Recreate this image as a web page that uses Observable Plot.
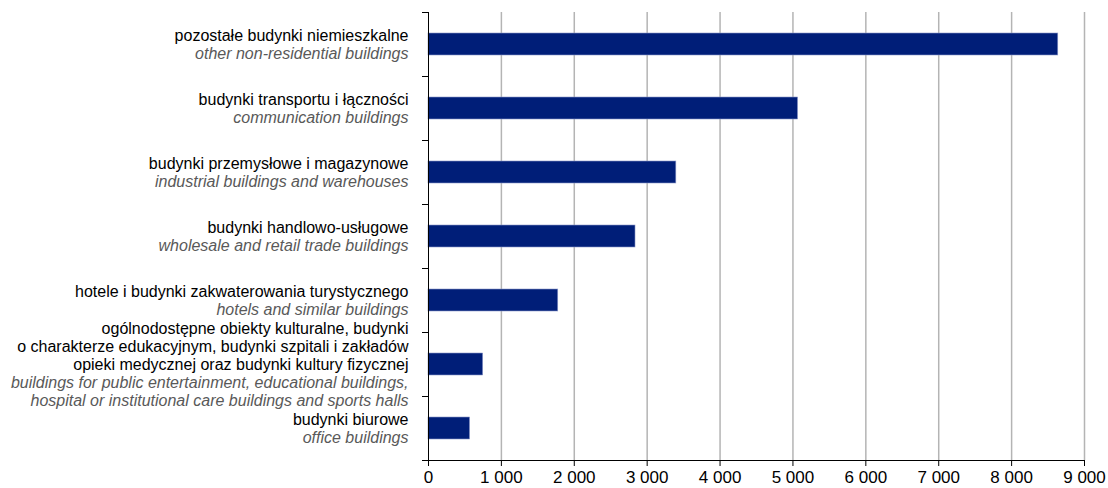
<!DOCTYPE html>
<html>
<head>
<meta charset="utf-8">
<script src="https://cdn.jsdelivr.net/npm/d3@7"></script>
<script src="https://cdn.jsdelivr.net/npm/@observablehq/plot@0.6"></script>
<style>
  html, body { margin: 0; padding: 0; background: #fff; }
  #chart { width: 1108px; height: 488px; overflow: hidden; }
</style>
</head>
<body>
<div id="chart"></div>
<script>
// Category labels (Polish / English), top to bottom
const labelsPl = [
  "pozostałe budynki niemieszkalne",
  "budynki transportu i łączności",
  "budynki przemysłowe i magazynowe",
  "budynki handlowo-usługowe",
  "hotele i budynki zakwaterowania turystycznego",
  "ogólnodostępne obiekty kulturalne, budynki\no charakterze edukacyjnym, budynki szpitali i zakładów\nopieki medycznej oraz budynki kultury fizycznej",
  "budynki biurowe"
];
const labelsEn = [
  "other non-residential buildings",
  "communication buildings",
  "industrial buildings and warehouses",
  "wholesale and retail trade buildings",
  "hotels and similar buildings",
  "buildings for public entertainment, educational buildings,\nhospital or institutional care buildings and sports halls",
  "office buildings"
];
const values = [8640, 5070, 3400, 2840, 1780, 750, 570];
const xTicks = [0, 1000, 2000, 3000, 4000, 5000, 6000, 7000, 8000, 9000];

const data = labelsPl.map((pl, i) => {
  const plLines = pl.split("\n");
  const enLines = labelsEn[i].split("\n");
  return {
    key: pl,
    value: values[i],
    // pad each block with blank lines so both blocks share one centred layout
    plText: plLines.concat(enLines.map(() => "")).join("\n"),
    enText: plLines.map(() => "").concat(enLines).join("\n")
  };
});
const keys = data.map(d => d.key);
const fmt = d => d3.format(",")(d).replace(/,/g, " ");

const W = 1108, H = 488, mL = 428, mR = 24, mT = 12, mB = 28;
const step = (H - mT - mB) / keys.length;
const frameW = W - mL - mR;

const chart = Plot.plot({
  width: W,
  height: H,
  marginLeft: mL,
  marginRight: mR,
  marginTop: mT,
  marginBottom: mB,
  style: { fontFamily: "'Liberation Sans', Arial, sans-serif", background: "#fff", color: "#000" },
  x: { domain: [0, 9000], axis: null },
  y: { domain: keys, paddingInner: 0.656, paddingOuter: 0.328, axis: null },
  marks: [
    Plot.gridX(xTicks.slice(1), { stroke: "#b4b4b4", strokeOpacity: 1, strokeWidth: 1.5 }),
    Plot.barX(data, { x: "value", y: "key", fill: "#001e78", stroke: "#8a96c8", strokeWidth: 0.6 }),
    // y-axis line and boundary ticks
    Plot.ruleX([0], { stroke: "#000", strokeWidth: 1 }),
    Plot.tickY(keys, { y: d => d, dy: -step / 2, dx: -6, insetRight: frameW - 6, stroke: "#000", strokeWidth: 1 }),
    Plot.tickY(keys.slice(-1), { y: d => d, dy: step / 2, dx: -6, insetRight: frameW - 6, stroke: "#000", strokeWidth: 1 }),
    // x-axis line and ticks
    Plot.frame({ anchor: "bottom", stroke: "#000", strokeWidth: 1 }),
    Plot.axisX(xTicks, { tickSize: 6, tickPadding: 4, fontSize: 17, tickFormat: fmt, label: null, stroke: "#000", color: "#000" }),
    // category labels
    Plot.text(data, {
      y: "key", text: "plText", frameAnchor: "left", textAnchor: "end", dx: -20,
      lineAnchor: "middle", lineHeight: 1.125, fontSize: 16, fill: "#000"
    }),
    Plot.text(data, {
      y: "key", text: "enText", frameAnchor: "left", textAnchor: "end", dx: -20,
      lineAnchor: "middle", lineHeight: 1.125, fontSize: 16, fontStyle: "italic", fill: "#595959"
    })
  ]
});
document.getElementById("chart").appendChild(chart);
</script>
</body>
</html>
